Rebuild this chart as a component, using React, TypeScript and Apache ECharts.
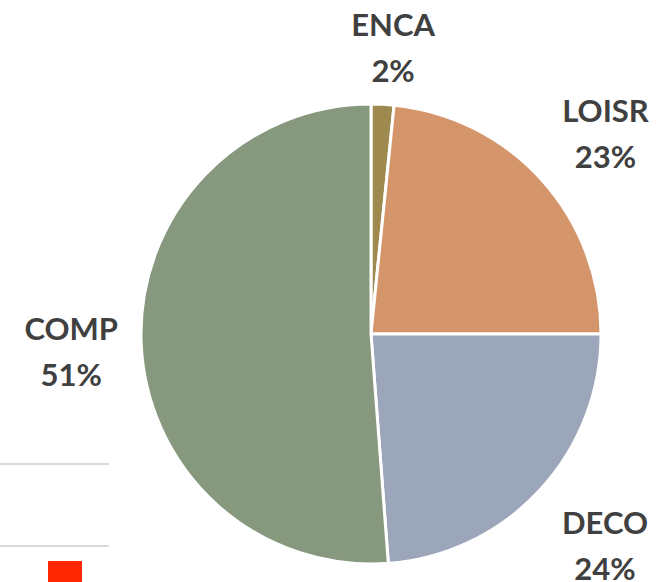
import React, { useEffect, useRef } from "react";
import * as echarts from "echarts";

const categories = ["ENCA", "LOISR", "DECO", "COMP"];
const values = [1.6, 23.4, 23.8, 51.2];
const colors = ["#9e8a4f", "#d5956a", "#9ba6ba", "#86997f"];

const CX = 371;
const CY = 334;
const RADIUS = 230;
const LABEL_R = 300;
const LABEL_SHIFT = [
  [7, 13],
  [12, 0],
  [14, 7],
  [0, 6],
];

export default function App() {
  const ref = useRef<HTMLDivElement>(null);
  useEffect(() => {
    if (!ref.current) return;
    const chart = echarts.init(ref.current, undefined, { renderer: "svg" });
    const total = values.reduce((a, b) => a + b, 0);
    chart.setOption({
      animation: false,
      backgroundColor: "#ffffff",
      graphic: [
        { type: "rect", shape: { x: 0, y: 463, width: 109, height: 2 }, style: { fill: "#d9d9d9" } },
        { type: "rect", shape: { x: 0, y: 545, width: 109, height: 2 }, style: { fill: "#d9d9d9" } },
        { type: "rect", shape: { x: 48, y: 561, width: 34, height: 21 }, style: { fill: "#ff2600" } },
      ],
      series: [
        {
          type: "pie",
          center: [CX, CY],
          radius: RADIUS,
          startAngle: 90,
          clockwise: true,
          percentPrecision: 0,
          itemStyle: { borderColor: "#ffffff", borderWidth: 3 },
          label: {
            show: true,
            position: "outside",
            formatter: "{b}\n{d}%",
            fontFamily: "Lato",
            fontWeight: "bold",
            fontSize: 31,
            lineHeight: 46,
            color: "#404040",
            align: "center",
            overflow: "none",
            width: 200,
          },
          labelLine: { show: false },
          labelLayout: (p: any) => {
            const i = p.dataIndex;
            const before = values.slice(0, i).reduce((a, b) => a + b, 0);
            const mid = ((before + values[i] / 2) / total) * Math.PI * 2;
            return {
              x: CX + LABEL_R * Math.sin(mid) + LABEL_SHIFT[i][0],
              y: CY - LABEL_R * Math.cos(mid) + LABEL_SHIFT[i][1],
              align: "center",
              verticalAlign: "middle",
            };
          },
          emphasis: { disabled: true },
          data: categories.map((c, i) => ({
            name: c,
            value: values[i],
            itemStyle: { color: colors[i] },
          })),
        },
      ],
    });
    return () => chart.dispose();
  }, []);
  return (
    <div
      ref={ref}
      style={{ position: "fixed", left: 0, top: 0, width: 656, height: 582 }}
    />
  );
}
